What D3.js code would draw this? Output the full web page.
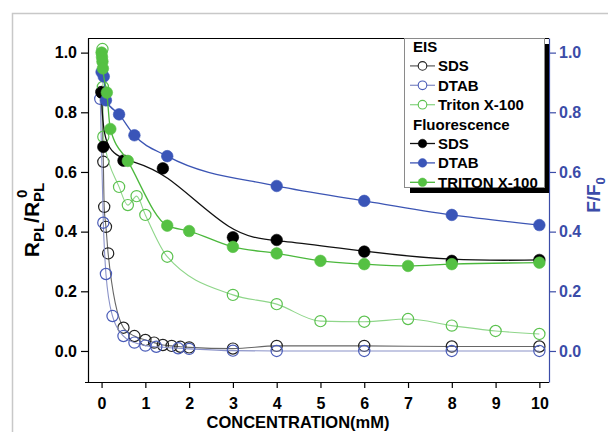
<!DOCTYPE html>
<html>
<head>
<meta charset="utf-8">
<script src="https://cdn.jsdelivr.net/npm/d3@7"></script>
<style>
  body { margin: 0; background: #fff; }
  svg { font-family: "Liberation Sans", Arial, sans-serif; font-weight: bold; }
</style>
</head>
<body>
<script>
// EIS (open circles) and fluorescence (filled circles), [concentration mM, value]
const eisSds = [[0.0, 0.868], [0.04, 0.634], [0.06, 0.483], [0.1, 0.416], [0.15, 0.327], [0.5, 0.078],
  [0.75, 0.05], [1.0, 0.037], [1.2, 0.028], [1.4, 0.02], [1.6, 0.017], [1.8, 0.014], [2.0, 0.012],
  [3, 0.008], [4, 0.017], [6, 0.017], [8, 0.015], [10, 0.015]];
const eisDtab = [[-0.03, 0.845], [0.04, 0.43], [0.1, 0.258], [0.25, 0.117], [0.5, 0.05], [0.75, 0.028],
  [1.0, 0.018], [1.25, 0.014], [1.75, 0.009], [2.0, 0.007], [3, 0.001], [4, 0.0], [6, 0.0], [8, 0.0], [10, 0.0]];
const eisTriton = [[0.02, 1.012], [0.03, 0.885], [0.04, 0.718], [0.4, 0.55], [0.6, 0.489], [0.8, 0.519],
  [1.0, 0.456], [1.5, 0.316], [3, 0.188], [4, 0.157], [5, 0.1], [6, 0.098], [7, 0.107], [8, 0.085],
  [9, 0.067], [10, 0.057]];
const flSds = [[0.0, 0.866], [0.04, 0.684], [0.5, 0.638], [1.4, 0.612], [3, 0.381], [4, 0.372],
  [6, 0.333], [8, 0.302], [10, 0.305]];
const flDtab = [[0.0, 0.935], [0.05, 0.92], [0.1, 0.84], [0.4, 0.793], [0.75, 0.723], [1.5, 0.653],
  [4, 0.553], [6, 0.503], [8, 0.456], [10, 0.422]];
const flTriton = [[0.0, 1.0], [0.01, 0.985], [0.02, 0.97], [0.03, 0.947], [0.12, 0.866], [0.2, 0.744],
  [0.6, 0.637], [1.5, 0.42], [2.0, 0.402], [3, 0.349], [4, 0.327], [5, 0.302], [6, 0.291], [7, 0.285],
  [8, 0.291], [10, 0.296]];

const xTicks = [0, 1, 2, 3, 4, 5, 6, 7, 8, 9, 10];
const yTicks = [0.0, 0.2, 0.4, 0.6, 0.8, 1.0];

const series = [
  {name: "SDS", data: eisSds, open: true, line: "#666", mark: "#222", curve: d3.curveMonotoneX},
  {name: "DTAB", data: eisDtab, open: true, line: "#8a92c8", mark: "#4a5cb8", curve: d3.curveMonotoneX},
  {name: "Triton X-100", data: eisTriton, open: true, line: "#8fd68a", mark: "#5cc24f", curve: d3.curveMonotoneX},
  {name: "SDS", data: flSds, open: false, line: "#111", mark: "#000", curve: d3.curveBasis},
  {name: "DTAB", data: flDtab, open: false, line: "#3c55b4", mark: "#3a55b8", curve: d3.curveMonotoneX},
  {name: "TRITON X-100", data: flTriton, open: false, line: "#4bb83c", mark: "#55c143", curve: d3.curveMonotoneX}
];

const W = 608, H = 432;
const blue = "#3b4ca8";

const svg = d3.select("body").append("svg")
  .attr("width", W)
  .attr("height", H);

// outer frame
svg.append("rect")
  .attr("x", 12.5).attr("y", 13.5)
  .attr("width", 620).attr("height", 440)
  .attr("fill", "none").attr("stroke", "#c8c8c8").attr("stroke-width", 1.5);

const x = d3.scaleLinear().domain([-0.31, 10.22]).range([88, 549]);
const y = d3.scaleLinear().domain([-0.104, 1.049]).range([382, 38]);

svg.append("clipPath").attr("id", "plot")
  .append("rect").attr("x", 88).attr("y", 38).attr("width", 461).attr("height", 344);

// top border
svg.append("line")
  .attr("x1", 88).attr("x2", 549).attr("y1", 38.5).attr("y2", 38.5)
  .attr("stroke", "#000").attr("stroke-width", 1.2);

// x axis
const xg = svg.append("g").attr("transform", "translate(0,382)");
xg.call(d3.axisBottom(x).tickValues(d3.range(0, 10.01, 0.5)).tickSize(3).tickFormat(""))
  .call(g => g.select(".domain").remove());
xg.call(d3.axisBottom(x).tickValues(xTicks).tickSize(6).tickSizeOuter(0).tickFormat(d3.format("d")))
  .call(g => g.select(".domain").attr("d", "M85,0.5H549"));
xg.selectAll("line, path").attr("stroke", "#000").attr("stroke-width", 1.2);
xg.selectAll("text").attr("font-size", 16).attr("font-family", null).attr("dy", "1.1em");

// left axis
const yl = svg.append("g").attr("transform", "translate(88,0)");
yl.call(d3.axisLeft(y).tickValues(d3.range(0, 1.01, 0.1)).tickSize(3).tickFormat(""))
  .call(g => g.select(".domain").remove());
yl.call(d3.axisLeft(y).tickValues(yTicks).tickSize(7).tickSizeOuter(0).tickFormat(d3.format(".1f")));
yl.selectAll("line, path").attr("stroke", "#000").attr("stroke-width", 1.2);
yl.selectAll("text").attr("font-size", 16).attr("font-family", null).attr("x", -11);

// right axis
const yr = svg.append("g").attr("transform", "translate(549,0)");
yr.call(d3.axisRight(y).tickValues(d3.range(0, 1.01, 0.1)).tickSize(3).tickFormat(""))
  .call(g => g.select(".domain").remove());
yr.call(d3.axisRight(y).tickValues(yTicks).tickSize(7).tickSizeOuter(0).tickFormat(d3.format(".1f")));
yr.selectAll("line, path").attr("stroke", blue).attr("stroke-width", 1.2);
yr.selectAll("text").attr("font-size", 16).attr("font-family", null).attr("fill", blue).attr("x", 10);

// axis titles
svg.append("text")
  .attr("x", 298).attr("y", 428)
  .attr("text-anchor", "middle").attr("font-size", 16.5)
  .text("CONCENTRATION(mM)");

const yt = svg.append("text")
  .attr("transform", "translate(39,220) rotate(-90)")
  .attr("text-anchor", "middle").attr("font-size", 21);
yt.append("tspan").text("R");
yt.append("tspan").attr("font-size", 15).attr("dy", 5).text("PL");
yt.append("tspan").attr("dy", -5).text("/R");
yt.append("tspan").attr("font-size", 15).attr("dx", 4).attr("dy", -12).text("0");
yt.append("tspan").attr("font-size", 15).attr("dx", -12.3).attr("dy", 17).text("PL");

const rt = svg.append("text")
  .attr("transform", "translate(600,195) rotate(-90)")
  .attr("text-anchor", "middle").attr("font-size", 19).attr("fill", blue);
rt.append("tspan").text("F/F");
rt.append("tspan").attr("font-size", 13).attr("dy", 5).text("0");

// curves and markers
const plot = svg.append("g").attr("clip-path", "url(#plot)");

series.forEach(s => {
  const line = d3.line()
    .x(d => x(d[0])).y(d => y(d[1]))
    .curve(s.curve);
  plot.append("path")
    .datum(s.data)
    .attr("d", line)
    .attr("fill", "none")
    .attr("stroke", s.line)
    .attr("stroke-width", s.open ? 1.1 : 1.3);
  plot.selectAll(null)
    .data(s.data)
    .join("circle")
    .attr("cx", d => x(d[0]))
    .attr("cy", d => y(d[1]))
    .attr("r", s.open ? 5.6 : 5.8)
    .attr("fill", s.open ? "none" : s.mark)
    .attr("stroke", s.mark)
    .attr("stroke-width", s.open ? 1.2 : 0.6);
});

// legend
const lg = svg.append("g");
lg.append("rect")
  .attr("x", 410).attr("y", 44).attr("width", 139).attr("height", 149)
  .attr("fill", "#000");
lg.append("rect")
  .attr("x", 404.5).attr("y", 38.5).attr("width", 140).attr("height", 149)
  .attr("fill", "#fff").attr("stroke", "#8a8a8a").attr("stroke-width", 1);

const rowY = i => 46.5 + i * 19.4;
lg.append("text").attr("x", 413).attr("y", rowY(0)).attr("dy", "0.36em")
  .attr("font-size", 15).text("EIS");
lg.append("text").attr("x", 413).attr("y", rowY(4)).attr("dy", "0.36em")
  .attr("font-size", 15).text("Fluorescence");

series.forEach((s, i) => {
  const r = i < 3 ? i + 1 : i + 2;
  const cy = rowY(r);
  lg.append("line")
    .attr("x1", 410).attr("x2", 435).attr("y1", cy).attr("y2", cy)
    .attr("stroke", s.line).attr("stroke-width", 1.3);
  lg.append("circle")
    .attr("cx", 422.5).attr("cy", cy).attr("r", 4.3)
    .attr("fill", s.open ? "#fff" : s.mark)
    .attr("stroke", s.mark).attr("stroke-width", s.open ? 1.1 : 0.5);
  lg.append("text").attr("x", 438).attr("y", cy).attr("dy", "0.36em")
    .attr("font-size", 15).text(s.name);
});
</script>
</body>
</html>
